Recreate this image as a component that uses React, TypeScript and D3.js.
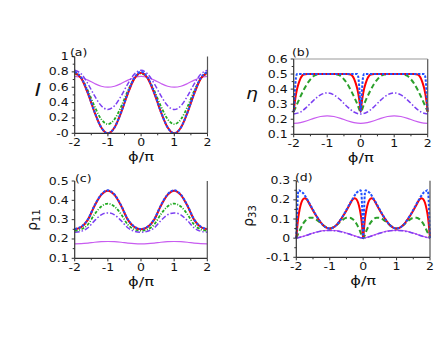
import { useEffect, useRef } from "react";
import * as d3 from "d3";

// phi / pi grids
const phiTicks = [-2, -1, 0, 1, 2];
const phiTickLabels = ["-2", "-1", "0", "1", "2"];
const phiCoarse = [-2, -1.8, -1.6, -1.4, -1.2, -1, -0.8, -0.6, -0.4, -0.2, 0, 0.2, 0.4, 0.6, 0.8, 1, 1.2, 1.4, 1.6, 1.8, 2];
const phiFine = [
  -2, -1.9, -1.8, -1.7, -1.6, -1.5, -1.4, -1.3, -1.2, -1.1, -1, -0.9, -0.8, -0.7, -0.6, -0.5, -0.4, -0.3, -0.2, -0.1,
  0, 0.1, 0.2, 0.3, 0.4, 0.5, 0.6, 0.7, 0.8, 0.9, 1, 1.1, 1.2, 1.3, 1.4, 1.5, 1.6, 1.7, 1.8, 1.9, 2,
];

// (a) I
const redA = [0.79, 0.715, 0.517, 0.273, 0.075, 0, 0.075, 0.273, 0.517, 0.715, 0.79, 0.715, 0.517, 0.273, 0.075, 0, 0.075, 0.273, 0.517, 0.715, 0.79];
const blueA = [0.8, 0.724, 0.524, 0.276, 0.076, 0, 0.076, 0.276, 0.524, 0.724, 0.8, 0.724, 0.524, 0.276, 0.076, 0, 0.076, 0.276, 0.524, 0.724, 0.8];
const greenA = [0.78, 0.717, 0.552, 0.348, 0.183, 0.12, 0.183, 0.348, 0.552, 0.717, 0.78, 0.717, 0.552, 0.348, 0.183, 0.12, 0.183, 0.348, 0.552, 0.717, 0.78];
const purpleA = [0.82, 0.772, 0.644, 0.486, 0.358, 0.31, 0.358, 0.486, 0.644, 0.772, 0.82, 0.772, 0.644, 0.486, 0.358, 0.31, 0.358, 0.486, 0.644, 0.772, 0.82];
const magentaA = [0.74, 0.727, 0.692, 0.648, 0.613, 0.6, 0.613, 0.648, 0.692, 0.727, 0.74, 0.727, 0.692, 0.648, 0.613, 0.6, 0.613, 0.648, 0.692, 0.727, 0.74];

// (b) eta
const redB: [number, number][] = [
  [-2, 0.25], [-1.98, 0.29], [-1.95, 0.34], [-1.9, 0.4], [-1.85, 0.44], [-1.8, 0.47], [-1.75, 0.488], [-1.7, 0.497], [-1.6, 0.5],
  [-0.4, 0.5], [-0.3, 0.497], [-0.25, 0.488], [-0.2, 0.47], [-0.15, 0.44], [-0.1, 0.4], [-0.05, 0.34], [-0.02, 0.29], [0, 0.25],
  [0.02, 0.29], [0.05, 0.34], [0.1, 0.4], [0.15, 0.44], [0.2, 0.47], [0.25, 0.488], [0.3, 0.497], [0.4, 0.5],
  [1.6, 0.5], [1.7, 0.497], [1.75, 0.488], [1.8, 0.47], [1.85, 0.44], [1.9, 0.4], [1.95, 0.34], [1.98, 0.29], [2, 0.25],
];
const blueB: [number, number][] = [
  [-2, 0.25], [-1.98, 0.32], [-1.96, 0.4], [-1.94, 0.46], [-1.92, 0.49], [-1.9, 0.5],
  [-0.1, 0.5], [-0.08, 0.49], [-0.06, 0.46], [-0.04, 0.4], [-0.02, 0.32], [0, 0.25],
  [0.02, 0.32], [0.04, 0.4], [0.06, 0.46], [0.08, 0.49], [0.1, 0.5],
  [1.9, 0.5], [1.92, 0.49], [1.94, 0.46], [1.96, 0.4], [1.98, 0.32], [2, 0.25],
];
const greenB = [
  0.25, 0.3, 0.35, 0.395, 0.435, 0.465, 0.487, 0.497, 0.5, 0.5, 0.5, 0.5, 0.5, 0.497, 0.487, 0.465, 0.435, 0.395, 0.35, 0.3,
  0.25, 0.3, 0.35, 0.395, 0.435, 0.465, 0.487, 0.497, 0.5, 0.5, 0.5, 0.5, 0.5, 0.497, 0.487, 0.465, 0.435, 0.395, 0.35, 0.3, 0.25,
];
const purpleB = [0.235, 0.248, 0.283, 0.327, 0.362, 0.375, 0.362, 0.327, 0.283, 0.248, 0.235, 0.248, 0.283, 0.327, 0.362, 0.375, 0.362, 0.327, 0.283, 0.248, 0.235];
const magentaB = [0.173, 0.178, 0.19, 0.206, 0.218, 0.223, 0.218, 0.206, 0.19, 0.178, 0.173, 0.178, 0.19, 0.206, 0.218, 0.223, 0.218, 0.206, 0.19, 0.178, 0.173];

// (c) rho11
const redC = [0.25, 0.262, 0.3, 0.372, 0.428, 0.45, 0.428, 0.372, 0.3, 0.262, 0.25, 0.262, 0.3, 0.372, 0.428, 0.45, 0.428, 0.372, 0.3, 0.262, 0.25];
const blueC = [0.252, 0.264, 0.302, 0.374, 0.43, 0.452, 0.43, 0.374, 0.302, 0.264, 0.252, 0.264, 0.302, 0.374, 0.43, 0.452, 0.43, 0.374, 0.302, 0.264, 0.252];
const greenC = [0.243, 0.25, 0.275, 0.328, 0.368, 0.383, 0.368, 0.328, 0.275, 0.25, 0.243, 0.25, 0.275, 0.328, 0.368, 0.383, 0.368, 0.328, 0.275, 0.25, 0.243];
const purpleC = [0.235, 0.24, 0.258, 0.295, 0.325, 0.335, 0.325, 0.295, 0.258, 0.24, 0.235, 0.24, 0.258, 0.295, 0.325, 0.335, 0.325, 0.295, 0.258, 0.24, 0.235];
const magentaC = [0.175, 0.176, 0.179, 0.183, 0.186, 0.187, 0.186, 0.183, 0.179, 0.176, 0.175, 0.176, 0.179, 0.183, 0.186, 0.187, 0.186, 0.183, 0.179, 0.176, 0.175];

// (d) rho33
const redD: [number, number][] = [
  [-2, 0], [-1.97, 0.06], [-1.94, 0.11], [-1.9, 0.15], [-1.85, 0.185], [-1.8, 0.203], [-1.75, 0.209], [-1.7, 0.205], [-1.65, 0.192], [-1.6, 0.176],
  [-1.5, 0.145], [-1.4, 0.116], [-1.3, 0.09], [-1.2, 0.068], [-1.1, 0.055], [-1, 0.05], [-0.9, 0.055], [-0.8, 0.068], [-0.7, 0.09], [-0.6, 0.116],
  [-0.5, 0.145], [-0.4, 0.176], [-0.35, 0.192], [-0.3, 0.205], [-0.25, 0.209], [-0.2, 0.203], [-0.15, 0.185], [-0.1, 0.15], [-0.06, 0.11], [-0.03, 0.06],
  [0, 0], [0.03, 0.06], [0.06, 0.11], [0.1, 0.15], [0.15, 0.185], [0.2, 0.203], [0.25, 0.209], [0.3, 0.205], [0.35, 0.192], [0.4, 0.176],
  [0.5, 0.145], [0.6, 0.116], [0.7, 0.09], [0.8, 0.068], [0.9, 0.055], [1, 0.05], [1.1, 0.055], [1.2, 0.068], [1.3, 0.09], [1.4, 0.116],
  [1.5, 0.145], [1.6, 0.176], [1.65, 0.192], [1.7, 0.205], [1.75, 0.209], [1.8, 0.203], [1.85, 0.185], [1.9, 0.15], [1.94, 0.11], [1.97, 0.06], [2, 0],
];
const blueD: [number, number][] = [
  [-2, 0], [-1.98, 0.1], [-1.96, 0.2], [-1.94, 0.245], [-1.92, 0.25], [-1.9, 0.248], [-1.8, 0.236], [-1.7, 0.21], [-1.6, 0.18], [-1.5, 0.148],
  [-1.4, 0.117], [-1.3, 0.09], [-1.2, 0.068], [-1.1, 0.055], [-1, 0.05], [-0.9, 0.055], [-0.8, 0.068], [-0.7, 0.09], [-0.6, 0.117], [-0.5, 0.148],
  [-0.4, 0.18], [-0.3, 0.21], [-0.2, 0.236], [-0.1, 0.248], [-0.08, 0.25], [-0.06, 0.245], [-0.04, 0.2], [-0.02, 0.1], [0, 0],
  [0.02, 0.1], [0.04, 0.2], [0.06, 0.245], [0.08, 0.25], [0.1, 0.248], [0.2, 0.236], [0.3, 0.21], [0.4, 0.18], [0.5, 0.148],
  [0.6, 0.117], [0.7, 0.09], [0.8, 0.068], [0.9, 0.055], [1, 0.05], [1.1, 0.055], [1.2, 0.068], [1.3, 0.09], [1.4, 0.117], [1.5, 0.148],
  [1.6, 0.18], [1.7, 0.21], [1.8, 0.236], [1.9, 0.248], [1.92, 0.25], [1.94, 0.245], [1.96, 0.2], [1.98, 0.1], [2, 0],
];
const greenD = [
  0, 0.04, 0.075, 0.097, 0.107, 0.106, 0.097, 0.083, 0.068, 0.056, 0.05, 0.056, 0.068, 0.083, 0.097, 0.106, 0.107, 0.097, 0.075, 0.04,
  0, 0.04, 0.075, 0.097, 0.107, 0.106, 0.097, 0.083, 0.068, 0.056, 0.05, 0.056, 0.068, 0.083, 0.097, 0.106, 0.107, 0.097, 0.075, 0.04, 0,
];
const purpleD = [0, 0.008, 0.02, 0.031, 0.038, 0.04, 0.038, 0.031, 0.02, 0.008, 0, 0.008, 0.02, 0.031, 0.038, 0.04, 0.038, 0.031, 0.02, 0.008, 0];
const magentaD = [0, 0.009, 0.021, 0.032, 0.039, 0.041, 0.039, 0.032, 0.021, 0.009, 0, 0.009, 0.021, 0.032, 0.039, 0.041, 0.039, 0.032, 0.021, 0.009, 0];

// y ticks
const yTicksA = [0, 0.2, 0.4, 0.6, 0.8, 1];
const yLabelsA = ["-0", "0.2", "0.4", "0.6", "0.8", "1"];
const yTicksB = [0.1, 0.2, 0.3, 0.4, 0.5, 0.6];
const yLabelsB = ["0.1", "0.2", "0.3", "0.4", "0.5", "0.6"];
const yTicksC = [0.1, 0.2, 0.3, 0.4, 0.5];
const yLabelsC = ["0.1", "0.2", "0.3", "0.4", "0.5"];
const yTicksD = [-0.1, 0, 0.1, 0.2, 0.3];
const yLabelsD = ["-0.1", "0", "0.1", "0.2", "0.3"];

const zip = (xs: number[], ys: number[]): [number, number][] => xs.map((x, i) => [x, ys[i]]);

const RED = { color: "#ff0000", width: 2, dash: null };
const BLUE = { color: "#2050ff", width: 2, dash: "2.5,1.5" };
const GREEN_DOT = { color: "#22aa22", width: 1.8, dash: "3,1.5,1,1.5" };
const GREEN_DASH = { color: "#2ca02c", width: 2, dash: "5,3" };
const PURPLE = { color: "#7b3ff2", width: 1.5, dash: "5,2,1.5,2" };
const MAGENTA = { color: "#c85cf0", width: 1.2, dash: null };

const SX = 1.25; // the reference glyphs are wide

const panels = [
  {
    label: "(a)", labelPos: [70, 56], x0: 74.7, x1: 207.5, yTop: 56.5, yBot: 133.3, domain: [0, 1],
    ticks: yTicksA, tickLabels: yLabelsA, title: "a", topLine: false,
    series: [
      { pts: zip(phiCoarse, magentaA), ...MAGENTA }, { pts: zip(phiCoarse, purpleA), ...PURPLE },
      { pts: zip(phiCoarse, greenA), ...GREEN_DOT }, { pts: zip(phiCoarse, redA), ...RED }, { pts: zip(phiCoarse, blueA), ...BLUE },
    ],
  },
  {
    label: "(b)", labelPos: [292, 56], x0: 293.7, x1: 427.7, yTop: 59, yBot: 134.3, domain: [0.1, 0.6],
    ticks: yTicksB, tickLabels: yLabelsB, title: "b", topLine: true,
    series: [
      { pts: zip(phiCoarse, magentaB), ...MAGENTA }, { pts: zip(phiCoarse, purpleB), ...PURPLE },
      { pts: zip(phiFine, greenB), ...GREEN_DASH }, { pts: redB, ...RED }, { pts: blueB, ...BLUE },
    ],
  },
  {
    label: "(c)", labelPos: [75, 182], x0: 74.7, x1: 207.3, yTop: 181, yBot: 258.3, domain: [0.1, 0.5],
    ticks: yTicksC, tickLabels: yLabelsC, title: "c", topLine: false,
    series: [
      { pts: zip(phiCoarse, magentaC), ...MAGENTA }, { pts: zip(phiCoarse, purpleC), ...PURPLE },
      { pts: zip(phiCoarse, greenC), ...GREEN_DOT }, { pts: zip(phiCoarse, redC), ...RED }, { pts: zip(phiCoarse, blueC), ...BLUE },
    ],
  },
  {
    label: "(d)", labelPos: [295, 181], x0: 296.3, x1: 430, yTop: 180.7, yBot: 257.3, domain: [-0.1, 0.3],
    ticks: yTicksD, tickLabels: yLabelsD, title: "d", topLine: false,
    series: [
      { pts: zip(phiCoarse, magentaD), ...MAGENTA }, { pts: zip(phiCoarse, purpleD), ...PURPLE },
      { pts: zip(phiFine, greenD), ...GREEN_DASH }, { pts: redD, ...RED }, { pts: blueD, ...BLUE },
    ],
  },
];

const FONT = "'DejaVu Sans', sans-serif";

const App = () => {
  const svgRef = useRef<SVGSVGElement>(null);

  useEffect(() => {
    const svg = d3.select(svgRef.current);
    svg.selectAll("*").remove();

    const txt = (g: any, x: number, y: number, s: string, size: number, anchor = "start", rot = 0) =>
      g.append("text")
        .attr("transform", `translate(${x},${y}) rotate(${rot}) scale(${SX},1)`)
        .attr("text-anchor", anchor)
        .attr("font-family", FONT)
        .attr("font-size", size)
        .attr("fill", "#111")
        .text(s);

    panels.forEach((p) => {
      const x = d3.scaleLinear().domain([-2, 2]).range([p.x0, p.x1]);
      const y = d3.scaleLinear().domain(p.domain).range([p.yBot, p.yTop]);
      const g = svg.append("g");

      // curves
      const line = d3.line<[number, number]>()
        .x((d) => x(d[0]))
        .y((d) => y(d[1]))
        .curve(d3.curveMonotoneX);
      p.series.forEach((s) => {
        g.append("path")
          .attr("d", line(s.pts))
          .attr("fill", "none")
          .attr("stroke", s.color)
          .attr("stroke-width", s.width)
          .attr("stroke-dasharray", s.dash)
          .attr("stroke-linejoin", "round");
      });

      // frame
      g.append("line").attr("x1", p.x0).attr("x2", p.x0).attr("y1", p.yTop).attr("y2", p.yBot).attr("stroke", "#333").attr("stroke-width", 1.2);
      g.append("line").attr("x1", p.x0).attr("x2", p.x1).attr("y1", p.yBot).attr("y2", p.yBot).attr("stroke", "#333").attr("stroke-width", 1.2);
      g.append("line").attr("x1", p.x1).attr("x2", p.x1).attr("y1", p.yTop).attr("y2", p.yBot).attr("stroke", "#555").attr("stroke-width", 1.2);
      if (p.topLine) {
        g.append("line").attr("x1", p.x0).attr("x2", p.x1).attr("y1", p.yTop).attr("y2", p.yTop).attr("stroke", "#999").attr("stroke-width", 1.2);
      }

      // x ticks
      phiTicks.forEach((t, i) => {
        g.append("line").attr("x1", x(t)).attr("x2", x(t)).attr("y1", p.yBot).attr("y2", p.yBot + 3).attr("stroke", "#333");
        txt(g, x(t), p.yBot + 13, phiTickLabels[i], 10, "middle");
        if (i < phiTicks.length - 1) {
          const m = (t + phiTicks[i + 1]) / 2;
          g.append("line").attr("x1", x(m)).attr("x2", x(m)).attr("y1", p.yBot).attr("y2", p.yBot + 2).attr("stroke", "#333");
        }
      });

      // y ticks
      p.ticks.forEach((t, i) => {
        g.append("line").attr("x1", p.x0 - 3).attr("x2", p.x0).attr("y1", y(t)).attr("y2", y(t)).attr("stroke", "#333");
        txt(g, p.x0 - 6, y(t) + 3.5, p.tickLabels[i], 10, "end");
        if (i < p.ticks.length - 1) {
          const m = (t + p.ticks[i + 1]) / 2;
          g.append("line").attr("x1", p.x0 - 2).attr("x2", p.x0).attr("y1", y(m)).attr("y2", y(m)).attr("stroke", "#333");
        }
      });

      // panel label
      txt(g, p.labelPos[0], p.labelPos[1], p.label, 10);

      // x title
      const xt = txt(g, (p.x0 + p.x1) / 2, p.yBot + 28, "", 13, "middle");
      xt.text("ϕ/π");

      // y titles
      if (p.title === "a") {
        txt(g, 38, 96, "I", 17, "middle").attr("font-style", "italic");
      } else if (p.title === "b") {
        txt(g, 252, 99, "η", 15, "middle").attr("font-style", "italic");
      } else {
        const cx = p.title === "c" ? 37 : 253;
        const cy = p.title === "c" ? 220 : 216;
        const t = g.append("text")
          .attr("transform", `translate(${cx},${cy}) rotate(-90)`)
          .attr("text-anchor", "middle")
          .attr("font-family", FONT)
          .attr("fill", "#111");
        t.append("tspan").attr("font-size", 14).text("ρ");
        t.append("tspan").attr("font-size", 10).attr("dy", 3).text(p.title === "c" ? "11" : "33");
      }
    });
  }, []);

  return (
    <svg
      ref={svgRef}
      width={436}
      height={354}
      style={{ position: "absolute", left: 0, top: 0, background: "#fff" }}
    />
  );
};

export default App;
